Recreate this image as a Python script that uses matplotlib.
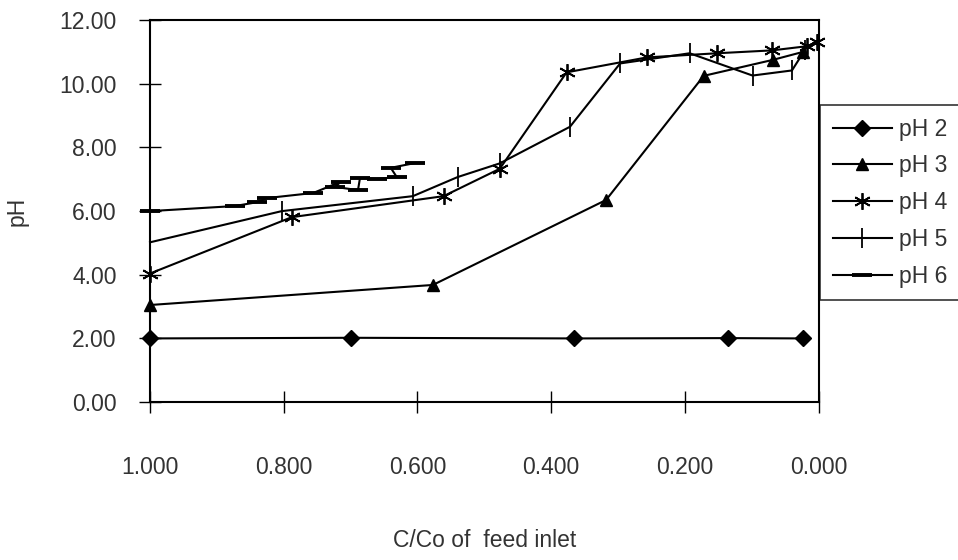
import matplotlib.pyplot as plt
from matplotlib.ticker import FormatStrFormatter

plt.rcParams['font.family'] = ['Liberation Sans', 'DejaVu Sans']

# pH 2
x_ph2 = [1.000, 0.700, 0.366, 0.136, 0.024]
y_ph2 = [2.00, 2.02, 2.00, 2.01, 2.00]
# pH 3
x_ph3 = [1.000, 0.577, 0.318, 0.172, 0.069, 0.024]
y_ph3 = [3.05, 3.68, 6.35, 10.25, 10.75, 11.00]
# pH 4
x_ph4 = [1.000, 0.788, 0.561, 0.477, 0.377, 0.257, 0.152, 0.070, 0.018, 0.003]
y_ph4 = [4.04, 5.81, 6.47, 7.33, 10.36, 10.83, 10.96, 11.05, 11.18, 11.30]
# pH 5
x_ph5 = [1.000, 0.803, 0.607, 0.540, 0.477, 0.372, 0.297, 0.193, 0.099, 0.040, 0.021]
y_ph5 = [5.02, 6.00, 6.47, 7.07, 7.50, 8.65, 10.64, 10.96, 10.26, 10.42, 11.05]
# pH 6
x_ph6 = [1.000, 0.873, 0.840, 0.825, 0.756, 0.715, 0.723, 0.689, 0.686, 0.661, 0.631, 0.640, 0.604]
y_ph6 = [6.00, 6.16, 6.28, 6.41, 6.57, 6.92, 6.76, 6.66, 7.04, 7.01, 7.07, 7.36, 7.51]

x_ticks = [1.0, 0.8, 0.6, 0.4, 0.2, 0.0]
y_ticks = [0, 2, 4, 6, 8, 10, 12]

txt = '#333333'
fig = plt.figure(figsize=(9.58, 5.6), dpi=100)
ax = fig.add_axes([0.1566, 0.282, 0.698, 0.682])

lw = 1.5
ax.plot(x_ph2, y_ph2, color='k', lw=lw, marker='D', ms=8, label='pH 2', clip_on=False)
ax.plot(x_ph3, y_ph3, color='k', lw=lw, marker='^', ms=9, label='pH 3', clip_on=False)
ax.plot(x_ph4, y_ph4, color='k', lw=lw, marker=(6, 2, 0), ms=12, mew=1.3, label='pH 4', clip_on=False)
ax.plot(x_ph5, y_ph5, color='k', lw=lw, marker='|', ms=14, mew=1.3, label='pH 5', clip_on=False)
ax.plot(x_ph6, y_ph6, color='k', lw=lw, marker='_', ms=15, mew=2.8, label='pH 6', clip_on=False)

ax.set_xlim(1.0, 0.0)
ax.set_ylim(0, 12)
ax.set_xticks(x_ticks)
ax.set_yticks(y_ticks)
ax.xaxis.set_major_formatter(FormatStrFormatter('%.3f'))
ax.yaxis.set_major_formatter(FormatStrFormatter('%.2f'))
ax.tick_params(axis='x', direction='inout', length=16, width=1, pad=31, labelsize=16.5, labelcolor=txt)
ax.tick_params(axis='y', direction='inout', length=16, width=1, pad=16, labelsize=16.5, labelcolor=txt)
for s in ax.spines.values():
    s.set_linewidth(1.5)

ax.set_ylabel('pH', fontsize=16.5, color=txt, labelpad=22)
ax.set_xlabel('C/Co of  feed inlet', fontsize=16.5, color=txt, labelpad=36)

leg = ax.legend(loc='upper left', bbox_to_anchor=(820 / 958, 1 - 105 / 560),
                bbox_transform=fig.transFigure, fontsize=16.5, frameon=True,
                fancybox=False, edgecolor='k', handlelength=2.6, labelspacing=0.6,
                borderpad=0.55, handletextpad=0.3, borderaxespad=0)
leg.get_frame().set_linewidth(1.2)
for t in leg.get_texts():
    t.set_color(txt)

fig.savefig('out.png', dpi=100)
